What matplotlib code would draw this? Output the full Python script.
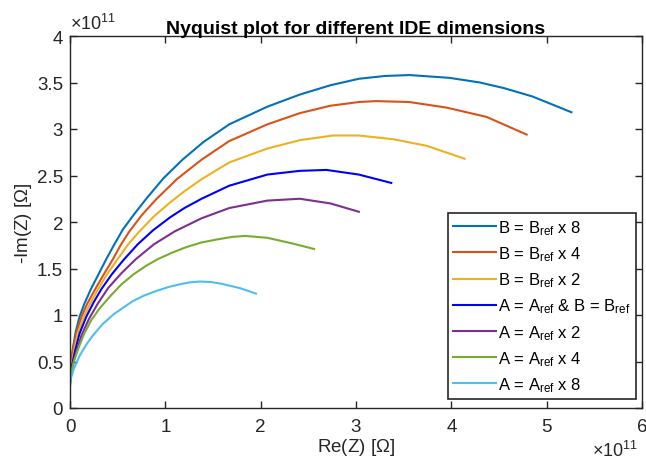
import matplotlib
matplotlib.use("Agg")
import matplotlib.pyplot as plt

plt.rcParams["font.family"] = ["Liberation Sans", "DejaVu Sans"]
plt.rcParams["mathtext.fontset"] = "custom"
plt.rcParams["mathtext.rm"] = "Liberation Sans"
plt.rcParams["mathtext.it"] = "Liberation Sans:italic"

# Re(Z) / -Im(Z) in units of 1e11 Ohm
x_b8 = [0.00, 0.01, 0.03, 0.06, 0.10, 0.15, 0.22, 0.30, 0.38, 0.46, 0.555, 0.67, 0.80, 0.98, 1.18, 1.40, 1.67, 2.07, 2.41, 2.73, 3.03, 3.30, 3.56, 3.98, 4.30, 4.55, 4.85, 5.26]
y_b8 = [0.30, 0.45, 0.64, 0.82, 0.98, 1.12, 1.28, 1.44, 1.60, 1.75, 1.92, 2.08, 2.25, 2.47, 2.67, 2.86, 3.05, 3.24, 3.37, 3.47, 3.54, 3.57, 3.58, 3.55, 3.50, 3.44, 3.35, 3.18]
x_b4 = [0.00, 0.01, 0.03, 0.07, 0.12, 0.18, 0.26, 0.35, 0.45, 0.53, 0.624, 0.75, 0.90, 1.12, 1.38, 1.67, 2.07, 2.41, 2.73, 3.03, 3.21, 3.56, 3.95, 4.37, 4.79]
y_b4 = [0.30, 0.44, 0.62, 0.82, 0.98, 1.12, 1.27, 1.43, 1.60, 1.75, 1.90, 2.07, 2.24, 2.46, 2.67, 2.87, 3.05, 3.17, 3.25, 3.29, 3.30, 3.29, 3.23, 3.13, 2.94]
x_b2 = [0.00, 0.01, 0.04, 0.08, 0.14, 0.21, 0.29, 0.39, 0.50, 0.61, 0.73, 0.88, 1.05, 1.20, 1.38, 1.67, 2.07, 2.41, 2.76, 3.03, 3.39, 3.74, 4.14]
y_b2 = [0.28, 0.42, 0.60, 0.80, 0.97, 1.12, 1.27, 1.44, 1.60, 1.76, 1.90, 2.06, 2.21, 2.33, 2.46, 2.64, 2.79, 2.88, 2.93, 2.93, 2.89, 2.82, 2.68]
x_ref = [0.00, 0.01, 0.05, 0.10, 0.17, 0.25, 0.33, 0.44, 0.56, 0.71, 0.87, 1.05, 1.20, 1.38, 1.67, 2.07, 2.41, 2.69, 3.03, 3.37]
y_ref = [0.27, 0.40, 0.60, 0.80, 0.98, 1.14, 1.28, 1.44, 1.59, 1.76, 1.91, 2.05, 2.15, 2.25, 2.39, 2.51, 2.55, 2.56, 2.51, 2.42]
x_a2 = [0.00, 0.01, 0.06, 0.12, 0.20, 0.29, 0.40, 0.54, 0.69, 0.88, 1.10, 1.38, 1.67, 2.07, 2.41, 2.73, 3.03]
y_a2 = [0.26, 0.38, 0.58, 0.78, 0.96, 1.12, 1.29, 1.45, 1.60, 1.76, 1.90, 2.04, 2.15, 2.23, 2.25, 2.20, 2.11]
x_a4 = [0.00, 0.01, 0.04, 0.08, 0.14, 0.22, 0.31, 0.42, 0.54, 0.67, 0.80, 0.92, 1.07, 1.22, 1.38, 1.53, 1.70, 1.84, 2.07, 2.33, 2.56]
y_a4 = [0.25, 0.36, 0.50, 0.62, 0.78, 0.94, 1.07, 1.20, 1.33, 1.44, 1.53, 1.60, 1.67, 1.73, 1.78, 1.81, 1.84, 1.85, 1.83, 1.77, 1.71]
x_a8 = [0.00, 0.01, 0.04, 0.10, 0.17, 0.24, 0.34, 0.46, 0.56, 0.66, 0.78, 0.91, 1.03, 1.15, 1.25, 1.36, 1.47, 1.57, 1.78, 1.95]
y_a8 = [0.23, 0.32, 0.42, 0.56, 0.68, 0.78, 0.90, 1.01, 1.08, 1.15, 1.21, 1.26, 1.30, 1.33, 1.35, 1.36, 1.355, 1.34, 1.29, 1.23]

series = [
    (x_b8, y_b8, "#0072BD", r"B = B$_{\rm ref}$ x 8"),
    (x_b4, y_b4, "#D95319", r"B = B$_{\rm ref}$ x 4"),
    (x_b2, y_b2, "#EDB120", r"B = B$_{\rm ref}$ x 2"),
    (x_ref, y_ref, "#0000FF", r"A = A$_{\rm ref}$ & B = B$_{\rm ref}$"),
    (x_a2, y_a2, "#7E2F8E", r"A = A$_{\rm ref}$ x 2"),
    (x_a4, y_a4, "#77AC30", r"A = A$_{\rm ref}$ x 4"),
    (x_a8, y_a8, "#4DBEEE", r"A = A$_{\rm ref}$ x 8"),
]

fig = plt.figure(figsize=(6.46, 4.64), dpi=100)
ax = fig.add_axes([70/646, 1-409/464, 572/646, 372/464])
for xs, ys, c, lab in series:
    ax.plot(xs, ys, color=c, lw=1.5, label=lab)

ax.set_xlim(0, 6); ax.set_ylim(0, 4)
ax.set_xticks(range(7)); ax.set_yticks([0, 0.5, 1, 1.5, 2, 2.5, 3, 3.5, 4])
ax.set_yticklabels(["0", "0.5", "1", "1.5", "2", "2.5", "3", "3.5", "4"])
ax.tick_params(direction="in", top=True, right=True, length=5, width=1, labelsize=13.5,
               colors="#262626")
ax.tick_params(axis="x", pad=7)
ax.tick_params(axis="y", pad=5)
for s in ax.spines.values():
    s.set_color("#262626"); s.set_linewidth(1)

ax.set_title("Nyquist plot for different IDE dimensions", fontsize=14, weight="bold", pad=2.5)
ax.set_xlabel(r"Re(Z) [$\Omega$]", fontsize=13.5, color="#262626", labelpad=1)
ax.set_ylabel(r"-Im(Z) [$\Omega$]", fontsize=13.5, color="#262626", labelpad=2)
ax.text(0.0, 1.008, r"$\times 10^{11}$", transform=ax.transAxes, fontsize=13, color="#262626", va="bottom")
fig.text(592/646, 3/464, r"$\times 10^{11}$", fontsize=13, color="#262626", va="bottom")

leg = ax.legend(loc="lower right", bbox_to_anchor=(636/646, 64/464), bbox_transform=fig.transFigure,
                fontsize=12, handlelength=2.6, handletextpad=0.12, labelspacing=0.45,
                borderaxespad=0, fancybox=False, framealpha=1, edgecolor="#262626", borderpad=0.3)
leg.get_frame().set_linewidth(1.2)

fig.savefig("out.png", dpi=100)
